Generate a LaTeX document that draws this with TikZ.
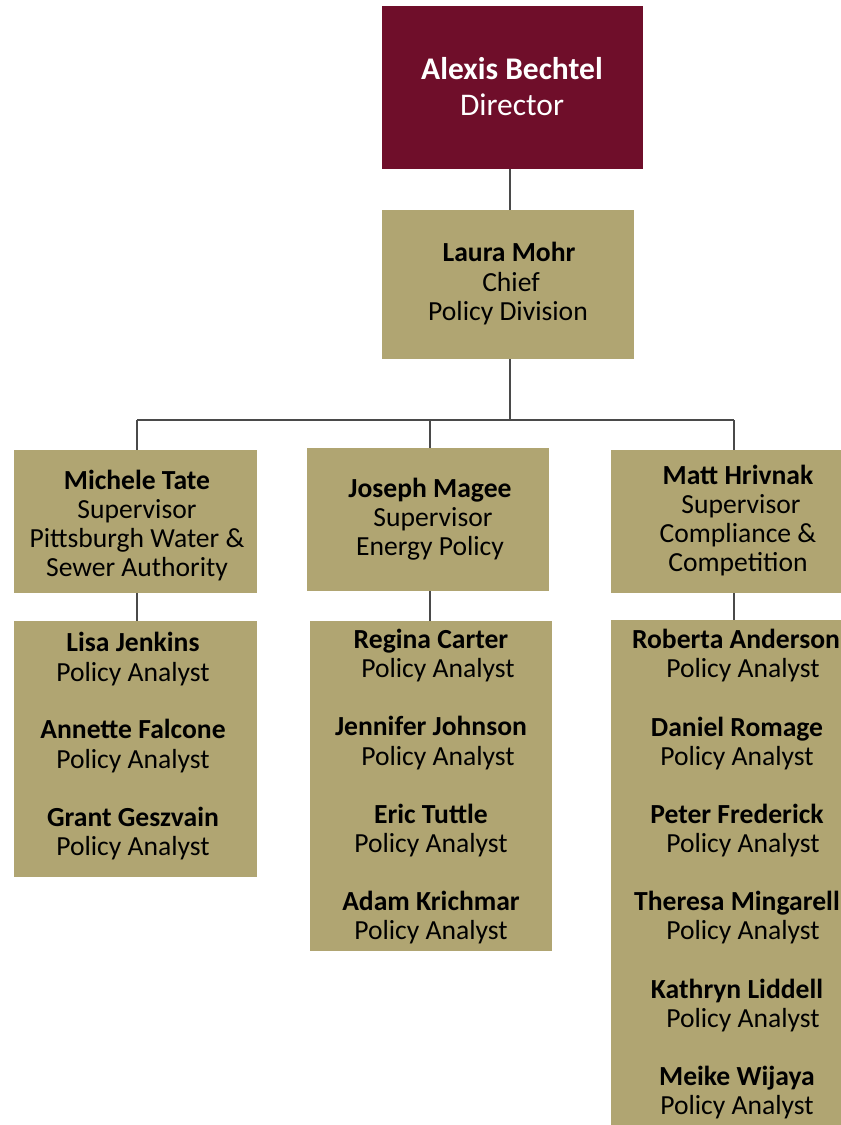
\documentclass[tikz,border=0pt]{standalone}
\usepackage{fontspec}
\setmainfont{Carlito}
\definecolor{maroon}{HTML}{6F0E2A}
\definecolor{gold}{HTML}{B0A572}
\definecolor{linec}{HTML}{4A4A4A}
\tikzset{
  box/.style={fill=gold, draw=none},
  topbox/.style={fill=maroon, draw=none},
  nm/.style={anchor=base, font=\fontsize{27.6}{29}\selectfont\bfseries, inner sep=0pt},
  rl/.style={anchor=base, font=\fontsize{27.6}{29}\selectfont, inner sep=0pt},
  bignm/.style={anchor=base, font=\fontsize{31.5}{36}\selectfont\bfseries, text=white, inner sep=0pt},
  bigrl/.style={anchor=base, font=\fontsize{31.5}{36}\selectfont, text=white, inner sep=0pt},
  conn/.style={draw=linec, line width=1.3pt}
}
\begin{document}
\begin{tikzpicture}[x=1pt,y=-1pt]
\useasboundingbox (0,0) rectangle (841,1125);
\fill[white] (0,0) rectangle (841,1125);
\begin{scope}
\clip (0,0) rectangle (841,1125);
% boxes
\path[topbox] (382,6) rectangle (643,169);
\coordinate (dirB) at (510,169);
\path[box] (382,210) rectangle (634,359);
\coordinate (chT) at (510,210);
\coordinate (chB) at (510,359);
\path[box] (14,450) rectangle (257,593);
\path[box] (307,448) rectangle (549,591);
\path[box] (611,450) rectangle (841,593);
\path[box] (14,621) rectangle (257,877);
\path[box] (310,621) rectangle (552,951);
\path[box] (611,620) rectangle (845,1130);
\coordinate (mtT) at (137,450);
\coordinate (mtB) at (137,593);
\coordinate (jmT) at (430,448);
\coordinate (jmB) at (430,591);
\coordinate (mhT) at (734,450);
\coordinate (mhB) at (734,593);
\coordinate (c1T) at (137,621);
\coordinate (c2T) at (430,621);
\coordinate (c3T) at (734,620);
\coordinate (bus) at (510,420);
\coordinate (busL) at (137,420);
\coordinate (busM) at (430,420);
\coordinate (busR) at (734,420);
% connectors
\draw[conn] (dirB) -- (chT);
\draw[conn] (chB) -- (bus);
\draw[conn] (busL) -- (busR);
\draw[conn] (busL) -- (mtT);
\draw[conn] (busM) -- (jmT);
\draw[conn] (busR) -- (mhT);
\draw[conn] (mtB) -- (c1T);
\draw[conn] (jmB) -- (c2T);
\draw[conn] (mhB) -- (c3T);
% director
\node[bignm] (ab1) at (512,79) {Alexis Bechtel};
\node[bigrl] (ab2) at (512,115) {Director};
% chief
\node[nm] (lm1) at (509,261) {Laura Mohr};
\node[rl] (lm2) at (511,291) {Chief};
\node[rl] (lm3) at (508,320) {Policy Division};
% supervisors
\node[nm] (mt1) at (137,489) {Michele Tate};
\node[rl] (mt2) at (137,518) {Supervisor};
\node[rl] (mt3) at (137,547) {Pittsburgh Water \&};
\node[rl] (mt4) at (137,576) {Sewer Authority};
\node[nm] (jm1) at (430,497) {Joseph Magee};
\node[rl] (jm2) at (433,526) {Supervisor};
\node[rl] (jm3) at (430,555) {Energy Policy};
\node[nm] (mh1) at (738,484) {Matt Hrivnak};
\node[rl] (mh2) at (741,513) {Supervisor};
\node[rl] (mh3) at (738,542) {Compliance \&};
\node[rl] (mh4) at (738,571) {Competition};
% column 1
\node[nm] (a1) at (133,651) {Lisa Jenkins};
\node[rl] (a1r) at (133,681) {Policy Analyst};
\node[nm] (a2) at (133,738) {Annette Falcone};
\node[rl] (a2r) at (133,768) {Policy Analyst};
\node[nm] (a3) at (133,826) {Grant Geszvain};
\node[rl] (a3r) at (133,855) {Policy Analyst};
% column 2
\node[nm] (b1) at (431,648) {Regina Carter};
\node[rl] (b1r) at (438,677) {Policy Analyst};
\node[nm] (b2) at (431,735) {Jennifer Johnson};
\node[rl] (b2r) at (438,765) {Policy Analyst};
\node[nm] (b3) at (431,823) {Eric Tuttle};
\node[rl] (b3r) at (431,852) {Policy Analyst};
\node[nm] (b4) at (431,910) {Adam Krichmar};
\node[rl] (b4r) at (431,939) {Policy Analyst};
% column 3
\node[nm] (c1) at (736,648) {Roberta Anderson};
\node[rl] (c1r) at (743,677) {Policy Analyst};
\node[nm] (c2) at (737,736) {Daniel Romage};
\node[rl] (c2r) at (737,765) {Policy Analyst};
\node[nm] (c3) at (737,823) {Peter Frederick};
\node[rl] (c3r) at (743,852) {Policy Analyst};
\node[nm] (c4) at (737,910) {Theresa Mingarell};
\node[rl] (c4r) at (743,939) {Policy Analyst};
\node[nm] (c5) at (737,998) {Kathryn Liddell};
\node[rl] (c5r) at (743,1027) {Policy Analyst};
\node[nm] (c6) at (737,1085) {Meike Wijaya};
\node[rl] (c6r) at (737,1114) {Policy Analyst};
\end{scope}
\end{tikzpicture}
\end{document}
